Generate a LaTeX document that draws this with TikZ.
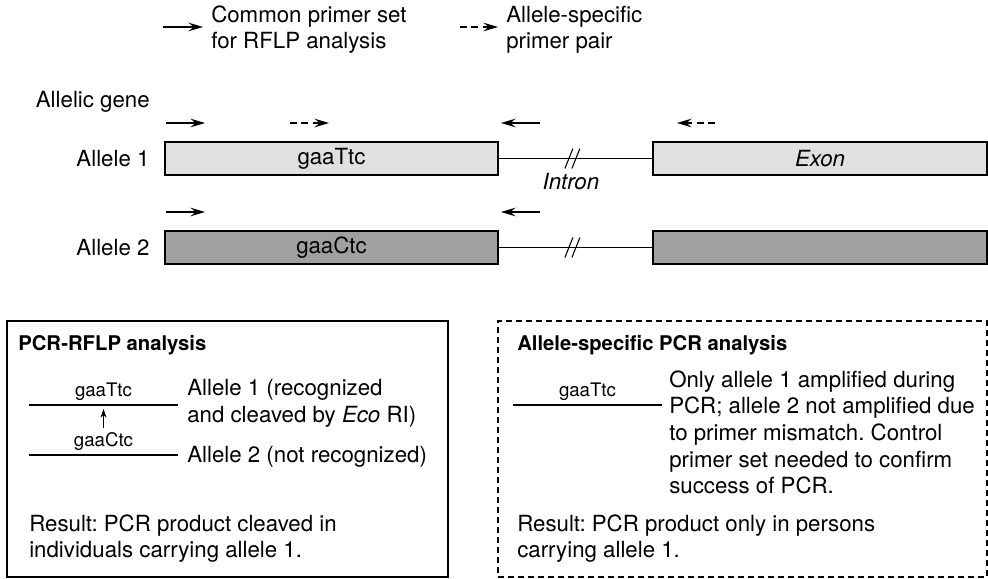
\documentclass[tikz,border=0pt]{standalone}
\usepackage{fontspec}
\setmainfont{TeX Gyre Heros}
\usetikzlibrary{arrows.meta,positioning,calc}
\definecolor{exonlight}{HTML}{E0E0E0}
\definecolor{exondark}{HTML}{A0A0A0}
\frenchspacing
\begin{document}
\begin{tikzpicture}
[x=0.75pt,y=-0.75pt,
  every node/.style={font=\fontsize{16.7}{20}\selectfont},
  genebox/.style={draw,line width=0.9pt,minimum height=24.75pt,inner sep=0pt},
  leftexon/.style={genebox,minimum width=249.75pt},
  rightexon/.style={genebox,minimum width=250.5pt},
  intronline/.style={-,line width=0.8pt},
  primer/.style={line width=0.8pt,-{Stealth[length=11pt,width=6.5pt,inset=4pt]}},
  dashprimer/.style={primer,dash pattern=on 5pt off 3.5pt},
  panelbox/.style={draw,line width=0.9pt,minimum height=192pt,inner sep=0pt},
  paneltitle/.style={font=\fontsize{15.2}{20}\selectfont\bfseries,anchor=west,inner sep=0pt},
  paneltext/.style={align=left,anchor=west,inner sep=0pt},
  seqlabel/.style={font=\fontsize{14}{16}\selectfont,inner sep=3pt},
  seqline/.style={-,line width=0.8pt}]
%% legend
\coordinate (lg1s) at (163,27);
\coordinate (lg1e) at (203,27);
\coordinate (lg2s) at (460,27);
\coordinate (lg2e) at (498,27);
\draw[primer] (lg1s) -- (lg1e);
\draw[dashprimer] (lg2s) -- (lg2e);
\node[paneltext,right=6pt of lg1e,yshift=-2pt] (lg1text) {Common primer set\\for RFLP analysis};
\node[paneltext,right=6pt of lg2e,yshift=-2pt] (lg2text) {Allele-specific\\primer pair};
%% gene boxes
\node[leftexon,fill=exonlight] (a1l) at (331.5,158.5) {gaaTtc};
\node[rightexon,fill=exonlight] (a1r) at (820,158.5) {\itshape Exon};
\node[leftexon,fill=exondark] (a2l) at (331.5,247.5) {gaaCtc};
\node[rightexon,fill=exondark] (a2r) at (820,247.5) {};
\node[anchor=east,inner sep=0pt] (genename) at (150,102) {Allelic gene};
\node[left=11pt of a1l,inner sep=0pt] (a1name) {Allele 1};
\node[left=11pt of a2l,inner sep=0pt] (a2name) {Allele 2};
%% introns with break marks
\foreach \row in {1,2} {
  \draw[intronline] (a\row l.east) -- (a\row r.west);
  \coordinate (brk\row) at ($(a\row l.east)!0.47!(a\row r.west)$);
  \draw[intronline] ([shift={(-6,10)}]brk\row) -- ([shift={(2,-10)}]brk\row);
  \draw[intronline] ([shift={(1,10)}]brk\row) -- ([shift={(9,-10)}]brk\row);
}
\node[below=11pt of brk1,font=\fontsize{16.7}{20}\selectfont\itshape,inner sep=0pt] (intronlbl) {Intron};
%% primers
\foreach \name/\xa/\xb/\y/\sty in {p1/166/205/123/primer, p2/290/329/123/dashprimer,
  p3/540/501/123/primer, p4/715/677/123/dashprimer,
  p5/166/205/212/primer, p6/540/501/212/primer} {
  \coordinate (\name s) at (\xa,\y);
  \coordinate (\name e) at (\xb,\y);
  \draw[\sty] (\name s) -- (\name e);
}
%% PCR-RFLP panel
\node[panelbox,minimum width=330.75pt] (rflppanel) at (227.5,449) {};
\node[paneltitle] (rflptitle) at (18,345) {PCR-RFLP analysis};
\coordinate (r1a) at (29,405);
\coordinate (r1b) at (178,405);
\coordinate (r2a) at (29,455);
\coordinate (r2b) at (178,455);
\draw[seqline] (r1a) -- node[above,seqlabel] (r1seq) {gaaTtc} (r1b);
\draw[seqline] (r2a) -- node[above,seqlabel] (r2seq) {gaaCtc} (r2b);
\draw[line width=0.7pt,-{Stealth[length=6.5pt,width=4.5pt,inset=2pt]}] (r2seq.north) -- ($(r1a)!0.5!(r1b)+(0,4)$);
\node[paneltext] (r1text) at (187,403.5) {Allele 1 (recognized\\and cleaved by \textit{Eco} RI)};
\node[paneltext] (r2text) at (187,457) {Allele 2 (not recognized)};
\node[paneltext] (rflpres) at (29,538.5) {Result: PCR product cleaved in\\individuals carrying allele 1.};
%% allele-specific panel
\node[panelbox,minimum width=366.75pt,dash pattern=on 4.5pt off 3pt] (aspanel) at (742.5,449) {};
\node[paneltitle] (astitle) at (517,345) {Allele-specific PCR analysis};
\coordinate (s1a) at (513,405);
\coordinate (s1b) at (662,405);
\draw[seqline] (s1a) -- node[above,seqlabel] (s1seq) {gaaTtc} (s1b);
\node[paneltext] (s1text) at (669,432.5) {Only allele 1 amplified during\\PCR; allele 2 not amplified due\\to primer mismatch. Control\\primer set needed to confirm\\success of PCR.};
\node[paneltext] (asres) at (517,538.5) {Result: PCR product only in persons\\carrying allele 1.};
\useasboundingbox (0,0) rectangle (988,578);
\end{tikzpicture}
\end{document}
